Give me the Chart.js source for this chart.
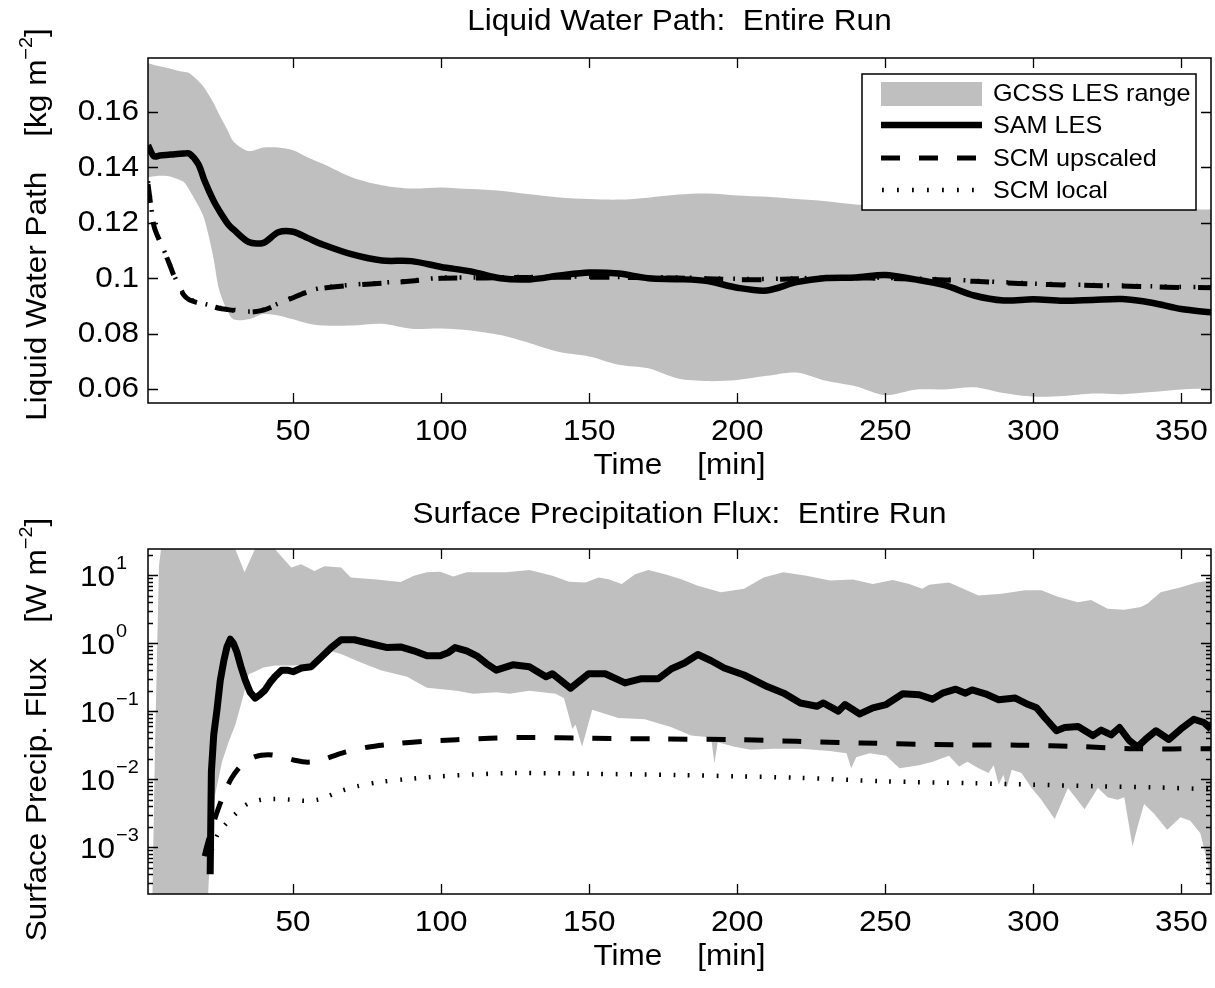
<!DOCTYPE html>
<html>
<head>
<meta charset="utf-8">
<title>Liquid Water Path / Surface Precipitation Flux</title>
<script src="https://cdn.jsdelivr.net/npm/chart.js@4.4.1/dist/chart.umd.min.js"></script>
<style>
  html, body { margin: 0; padding: 0; background: #fff; }
  #wrap { position: relative; width: 1215px; height: 988px; overflow: hidden; }
  canvas { position: absolute; left: 0; }
  #lwp { top: 0; }
  #flux { top: 490px; }
</style>
</head>
<body>
<div id="wrap">
  <canvas id="lwp" width="1215" height="490"></canvas>
  <canvas id="flux" width="1215" height="498"></canvas>
</div>
<script>
// ================= data: liquid water path (top panel) =================
var timeTop = [1, 3, 5, 8, 10, 13, 15, 18, 20, 23, 25, 28, 30, 35, 40, 45, 50, 55, 60, 70, 80, 90, 100, 110, 120, 130, 140, 150, 160, 170, 180, 190, 200, 210, 220, 230, 240, 250, 260, 270, 280, 290, 300, 310, 320, 330, 340, 350, 360];
var samLwp = [0.148, 0.1440, 0.1443, 0.1446, 0.1448, 0.1450, 0.1450, 0.1412, 0.1355, 0.1283, 0.1245, 0.1196, 0.1175, 0.1131, 0.1128, 0.1166, 0.1168, 0.1145, 0.1122, 0.1086, 0.1064, 0.1062, 0.1041, 0.1025, 0.1000, 0.0996, 0.1010, 0.1021, 0.1017, 0.1000, 0.0997, 0.0990, 0.0966, 0.0956, 0.0986, 0.1001, 0.1003, 0.1012, 0.0996, 0.0975, 0.0938, 0.0920, 0.0924, 0.0919, 0.0922, 0.0925, 0.0912, 0.0889, 0.0877];
var upscaledLwp = [0.134, 0.119, 0.1133, 0.1058, 0.1003, 0.0941, 0.0922, 0.0911, 0.0906, 0.0898, 0.0892, 0.0887, 0.0884, 0.0878, 0.0885, 0.0907, 0.0930, 0.0951, 0.0964, 0.0975, 0.0982, 0.0990, 0.1000, 0.1001, 0.1002, 0.1003, 0.1004, 0.1004, 0.1003, 0.1002, 0.1001, 0.0998, 0.0995, 0.0995, 0.0998, 0.1000, 0.1001, 0.1000, 0.0997, 0.0994, 0.0989, 0.0984, 0.0979, 0.0976, 0.0974, 0.0972, 0.0969, 0.0967, 0.0966];
var localLwp = [0.135, 0.1195, 0.1136, 0.1060, 0.1006, 0.0944, 0.0925, 0.0913, 0.0908, 0.0900, 0.0894, 0.0889, 0.0886, 0.0880, 0.0887, 0.0909, 0.0932, 0.0953, 0.0966, 0.0977, 0.0984, 0.0992, 0.1002, 0.1003, 0.1004, 0.1005, 0.1006, 0.1006, 0.1005, 0.1004, 0.1003, 0.1000, 0.0998, 0.0998, 0.1000, 0.1002, 0.1003, 0.1002, 0.0999, 0.0996, 0.0991, 0.0986, 0.0981, 0.0978, 0.0976, 0.0974, 0.0971, 0.0969, 0.0968];
var gcssMaxLwp = [0.1776, 0.1770, 0.1765, 0.1758, 0.1752, 0.1745, 0.1740, 0.1712, 0.1688, 0.1635, 0.1592, 0.1532, 0.1492, 0.1459, 0.1472, 0.1472, 0.1462, 0.1436, 0.1413, 0.1364, 0.1336, 0.1324, 0.1328, 0.1322, 0.1316, 0.1303, 0.1292, 0.1286, 0.1284, 0.1291, 0.1302, 0.1306, 0.1299, 0.1294, 0.1286, 0.1278, 0.1266, 0.1260, 0.1258, 0.1256, 0.1254, 0.1252, 0.1251, 0.1250, 0.1249, 0.1249, 0.1248, 0.1248, 0.1248];
var gcssMinLwp = [0.1365, 0.1368, 0.1370, 0.1368, 0.1362, 0.1348, 0.1318, 0.1262, 0.1215, 0.1080, 0.0960, 0.0878, 0.0851, 0.0852, 0.0871, 0.0866, 0.0852, 0.0837, 0.0830, 0.0830, 0.0836, 0.0818, 0.0819, 0.0812, 0.0795, 0.0766, 0.0734, 0.0718, 0.0688, 0.0675, 0.0638, 0.0629, 0.0633, 0.0648, 0.0660, 0.0630, 0.0610, 0.0578, 0.0598, 0.0599, 0.0607, 0.0586, 0.0573, 0.0575, 0.0584, 0.0582, 0.0590, 0.0599, 0.0602];

// ================= data: surface precipitation flux (bottom panel) =================
var timeSam = [22.0, 22.4, 23.2, 24.3, 25.4, 26.6, 27.7, 28.8, 29.8, 31.0, 32.4, 33.8, 35.5, 37.2, 38.8, 40.5, 42.2, 43.9, 46.1, 48.0, 50.0, 52.8, 56.1, 59.5, 62.9, 66.2, 70.7, 76.3, 81.8, 86.3, 90.8, 95.2, 99.7, 102.5, 104.7, 108.6, 112.0, 115.3, 118.6, 124.2, 129.8, 135.4, 137.6, 143.7, 149.8, 155.4, 162.1, 167.7, 173.3, 177.8, 182.2, 186.7, 191.2, 195.6, 202.3, 210.1, 215.7, 221.3, 226.9, 229.1, 234.1, 236.4, 241.4, 245.8, 250.3, 255.9, 261.5, 265.9, 269.3, 273.8, 277.1, 279.3, 283.8, 288.3, 293.9, 298.3, 301.1, 303.9, 307.8, 310.6, 315.1, 320.1, 322.9, 326.3, 329.1, 332.4, 335.2, 338.0, 341.4, 345.8, 349.8, 354.2, 357.6, 360];
var samFlux = [0.0004, 0.0126, 0.045, 0.105, 0.28, 0.55, 0.89, 1.14, 1.0, 0.74, 0.45, 0.29, 0.19, 0.155, 0.174, 0.204, 0.263, 0.324, 0.40, 0.40, 0.38, 0.43, 0.45, 0.62, 0.86, 1.12, 1.12, 0.98, 0.86, 0.88, 0.77, 0.65, 0.65, 0.73, 0.86, 0.77, 0.65, 0.50, 0.40, 0.48, 0.45, 0.32, 0.355, 0.217, 0.355, 0.355, 0.26, 0.30, 0.30, 0.42, 0.51, 0.68, 0.55, 0.43, 0.34, 0.23, 0.184, 0.132, 0.118, 0.132, 0.100, 0.125, 0.091, 0.112, 0.125, 0.18, 0.174, 0.15, 0.184, 0.21, 0.184, 0.205, 0.18, 0.147, 0.156, 0.125, 0.112, 0.080, 0.0515, 0.0575, 0.0596, 0.0437, 0.0527, 0.0447, 0.0575, 0.037, 0.0296, 0.039, 0.0515, 0.0383, 0.0545, 0.076, 0.068, 0.0545];
var timeUpscaled = [20.0, 21.0, 23.8, 26.6, 29.3, 32.7, 37.2, 41.6, 46.1, 50.5, 55.0, 59.5, 66.2, 75.1, 84.1, 94.1, 105.3, 116.4, 130, 150, 175, 200, 220, 242, 273, 295, 317, 334, 360];
var upscaledFlux = [0.00074, 0.0011, 0.0028, 0.006, 0.0105, 0.0162, 0.0214, 0.0229, 0.0214, 0.019, 0.0178, 0.019, 0.024, 0.0295, 0.033, 0.036, 0.038, 0.040, 0.041, 0.040, 0.039, 0.038, 0.036, 0.034, 0.032, 0.0316, 0.030, 0.028, 0.028];
var timeLocal = [22.5, 24.4, 27.3, 30.6, 34.5, 39.4, 43.9, 48.9, 53.9, 58.4, 61.7, 66.2, 71.8, 79.6, 88.5, 99.7, 110.8, 125, 150, 180, 200, 220, 250, 280, 300, 320, 340, 360];
var localFlux = [0.0009, 0.0015, 0.0022, 0.0031, 0.0043, 0.005, 0.0051, 0.005, 0.0048, 0.005, 0.0056, 0.0067, 0.0079, 0.0091, 0.010, 0.011, 0.0117, 0.0123, 0.012, 0.0115, 0.011, 0.0105, 0.0093, 0.0087, 0.0083, 0.0079, 0.0076, 0.0071];
var timeGcssMax = [1, 2.5, 3.4, 4.7, 6, 29, 30.5, 33.6, 37.1, 38.5, 42.5, 43.9, 49.4, 52.7, 57.2, 60.6, 66.2, 69.5, 77.3, 86.3, 90.8, 95.2, 99.7, 104.1, 108.6, 114.2, 122, 129.8, 137.6, 143.2, 148.7, 153.2, 156.5, 161, 165.5, 170, 175.6, 181.1, 186.7, 194.5, 202.3, 208.9, 215.6, 223.4, 231.3, 239.1, 245.8, 252.5, 258.1, 262.5, 264.8, 271.5, 281.5, 289.3, 297.2, 302.7, 308.3, 315, 319.5, 325.1, 330.7, 336.3, 338.5, 343, 349.6, 355.2, 360];
var gcssMaxFlux = [1e-5, 2e-4, 0.035, 13.5, 40, 40, 24, 11, 24, 40, 40, 24, 12.9, 14.5, 11.5, 13.5, 12.9, 9.25, 8.7, 7.9, 9.8, 11.0, 11.2, 9.5, 11.0, 11.0, 11.0, 11.9, 9.8, 8.0, 7.8, 9.25, 8.7, 7.4, 10.3, 11.9, 10.3, 8.7, 7.0, 5.6, 6.3, 9.25, 11.0, 9.8, 8.3, 8.6, 7.4, 8.5, 7.4, 6.3, 7.2, 7.8, 5.0, 5.3, 6.0, 6.0, 4.8, 4.0, 4.3, 3.2, 3.1, 3.4, 3.8, 5.6, 6.6, 7.8, 8.3];
var timeGcssMin = [1, 20.8, 21.2, 22.5, 23.8, 26, 28.2, 30.5, 32.7, 35, 37, 40, 44, 50, 56, 60, 63, 66.2, 72.9, 79.6, 88.5, 95.2, 105.3, 110.8, 118.6, 123.1, 129.8, 138.7, 141.5, 144.3, 145.4, 147.6, 151, 159.9, 168.8, 177.8, 184.4, 188.9, 191.2, 192.3, 193.4, 199, 204.6, 212.4, 221.3, 231.3, 236.9, 238.5, 240.2, 244.7, 250.3, 254.8, 261.5, 266, 271.5, 274.9, 277.7, 281.5, 284.9, 286.6, 288.3, 289.9, 291, 292.7, 296, 299.4, 302.7, 307.2, 311.7, 317.3, 321.8, 325.1, 328.5, 330.7, 333.5, 335.2, 337.4, 340.8, 345.2, 349.7, 353, 356.4, 359.1, 360];
var gcssMinFlux = [1e-5, 1e-5, 1.6e-4, 0.0025, 0.0063, 0.018, 0.035, 0.063, 0.14, 0.35, 0.38, 0.44, 0.47, 0.47, 0.49, 0.60, 0.76, 0.69, 0.52, 0.40, 0.32, 0.22, 0.20, 0.18, 0.19, 0.18, 0.20, 0.18, 0.155, 0.055, 0.063, 0.030, 0.105, 0.079, 0.076, 0.058, 0.044, 0.042, 0.040, 0.017, 0.035, 0.030, 0.027, 0.028, 0.028, 0.026, 0.024, 0.0145, 0.021, 0.024, 0.022, 0.0145, 0.016, 0.018, 0.022, 0.0153, 0.018, 0.0145, 0.0123, 0.016, 0.0083, 0.0116, 0.0074, 0.0138, 0.0123, 0.0074, 0.0050, 0.0026, 0.0074, 0.0036, 0.0074, 0.0054, 0.0050, 0.0054, 0.00102, 0.0020, 0.0043, 0.0031, 0.0018, 0.00275, 0.00245, 0.0016, 0.00052, 0.00016];

// ================= ticks =================
var timeTicks = [50, 100, 150, 200, 250, 300, 350];
var lwpTicks = [0.06, 0.08, 0.1, 0.12, 0.14, 0.16];
var lwpTickLabels = ['0.06', '0.08', '0.1', '0.12', '0.14', '0.16'];
var fluxTicks = [1e-3, 1e-2, 1e-1, 1, 10];
var fluxTickExponents = ['\u22123', '\u22122', '\u22121', '0', '1'];
var legendLabels = ['GCSS LES range', 'SAM LES', 'SCM upscaled', 'SCM local'];

// ================= styling =================
var FONT = '"Liberation Sans", Arial, Helvetica, sans-serif';
var STRETCH = 1.05;
var FS = 30;        // main text size
var FS_SUP = 19;    // superscripts
var BAND = '#bfbfbf';
var DOT = [1.8, 12.6];

function pts(xs, ys) {
    return xs.map(function (x, i) { return { x: x, y: ys[i] }; });
}

// draw a run of text pieces (text, size, dy), optionally rotated
function drawRich(ctx, parts, x, y, align, rot) {
    ctx.save();
    ctx.translate(x, y);
    if (rot) ctx.rotate(rot);
    ctx.scale(STRETCH, 1);
    ctx.fillStyle = '#000';
    ctx.textBaseline = 'middle';
    ctx.textAlign = 'left';
    var total = 0, widths = [];
    parts.forEach(function (p) {
        ctx.font = p[1] + 'px ' + FONT;
        var w = ctx.measureText(p[0]).width;
        widths.push(w);
        total += w;
    });
    var cx = align === 'right' ? -total : (align === 'left' ? 0 : -total / 2);
    parts.forEach(function (p, i) {
        ctx.font = p[1] + 'px ' + FONT;
        ctx.fillText(p[0], cx, p[2] || 0);
        cx += widths[i];
    });
    ctx.restore();
}

function drawLegend(ctx, a) {
    var L = a.right - 349, T = a.top + 16, W = 334, H = 136;
    var s0 = L + 19, s1 = L + 120;
    ctx.save();
    ctx.fillStyle = '#fff';
    ctx.fillRect(L, T, W, H);
    ctx.strokeStyle = '#000';
    ctx.lineWidth = 1.5;
    ctx.strokeRect(L, T, W, H);

    ctx.fillStyle = BAND;
    ctx.fillRect(s0, T + 8, s1 - s0, 24);

    ctx.strokeStyle = '#000';
    ctx.lineCap = 'butt';
    ctx.lineWidth = 6.5;
    ctx.setLineDash([]);
    ctx.beginPath(); ctx.moveTo(s0, T + 51); ctx.lineTo(s1, T + 51); ctx.stroke();

    ctx.lineWidth = 5;
    ctx.setLineDash([19, 19]);
    ctx.beginPath(); ctx.moveTo(s0, T + 84); ctx.lineTo(s1, T + 84); ctx.stroke();

    ctx.lineWidth = 4.5;
    ctx.setLineDash([1.8, 13.2]);
    ctx.beginPath(); ctx.moveTo(s0 + 1, T + 116); ctx.lineTo(s1, T + 116); ctx.stroke();
    ctx.restore();

    var ys = [T + 20, T + 52, T + 85, T + 117];
    legendLabels.forEach(function (lab, i) {
        drawRich(ctx, [[lab, 24, 0]], L + 131, ys[i], 'left');
    });
}

// MATLAB-like frame: box, inward ticks on all sides, labels and titles
function makeAxesPlugin(spec) {
    return {
        id: 'matlabAxes',
        afterDraw: function (chart) {
            var ctx = chart.ctx, a = chart.chartArea;
            var xs = chart.scales.x, ys = chart.scales.y;
            ctx.save();
            ctx.strokeStyle = '#000';
            ctx.setLineDash([]);
            ctx.lineWidth = 1.3;
            ctx.beginPath();
            timeTicks.forEach(function (v) {
                var px = Math.round(xs.getPixelForValue(v)) + 0.5;
                ctx.moveTo(px, a.bottom); ctx.lineTo(px, a.bottom - 10);
                ctx.moveTo(px, a.top); ctx.lineTo(px, a.top + 10);
            });
            spec.yTicks.forEach(function (v) {
                var py = Math.round(ys.getPixelForValue(v)) + 0.5;
                ctx.moveTo(a.left, py); ctx.lineTo(a.left + 10, py);
                ctx.moveTo(a.right, py); ctx.lineTo(a.right - 10, py);
            });
            if (spec.minor) {
                for (var k = -4; k <= 1; k++) {
                    for (var m = 2; m <= 9; m++) {
                        var v = m * Math.pow(10, k);
                        if (v < ys.min || v > ys.max) continue;
                        var py = Math.round(ys.getPixelForValue(v)) + 0.5;
                        ctx.moveTo(a.left, py); ctx.lineTo(a.left + 5, py);
                        ctx.moveTo(a.right, py); ctx.lineTo(a.right - 5, py);
                    }
                }
            }
            ctx.stroke();
            ctx.lineWidth = 1.5;
            ctx.strokeRect(a.left, a.top, a.right - a.left, a.bottom - a.top);
            ctx.restore();

            if (spec.legend) drawLegend(ctx, a);

            // tick labels
            timeTicks.forEach(function (v) {
                drawRich(ctx, [[String(v), FS, 0]], xs.getPixelForValue(v), a.bottom + 29, 'center');
            });
            spec.yTicks.forEach(function (v, i) {
                var py = ys.getPixelForValue(v);
                if (spec.logLabels) {
                    drawRich(ctx, [['10', FS, 0]], a.left - 33, py + 3, 'right');
                    drawRich(ctx, [[spec.yLabels[i], FS_SUP, 0]], a.left - 32, py - 11, 'left');
                } else {
                    drawRich(ctx, [[spec.yLabels[i], FS, 0]], a.left - 9, py, 'right');
                }
            });

            // titles
            var cx = (a.left + a.right) / 2;
            drawRich(ctx, [[spec.title, FS, 0]], cx, spec.titleY, 'center');
            drawRich(ctx, [['Time    [min]', FS, 0]], cx, a.bottom + 63, 'center');
            drawRich(ctx, spec.yTitle, 38, (a.top + a.bottom) / 2 + spec.yTitleShift, 'center', -Math.PI / 2);
        }
    };
}

function baseOptions(yScale, pad) {
    return {
        responsive: false,
        animation: false,
        devicePixelRatio: 1,
        events: [],
        layout: { padding: pad },
        plugins: { legend: { display: false }, tooltip: { enabled: false } },
        elements: { point: { radius: 0 } },
        scales: {
            x: { type: 'linear', min: 1, max: 360, ticks: { display: false }, grid: { display: false }, border: { display: false } },
            y: Object.assign({ ticks: { display: false }, grid: { display: false }, border: { display: false } }, yScale)
        }
    };
}

// ================= top panel =================
new Chart(document.getElementById('lwp'), {
    type: 'line',
    data: {
        datasets: [
            { label: 'SAM LES', data: pts(timeTop, samLwp), borderColor: '#000', borderWidth: 6.5, tension: 0.3, fill: false, borderJoinStyle: 'round' },
            { label: 'SCM upscaled', data: pts(timeTop, upscaledLwp), borderColor: '#000', borderWidth: 5, borderDash: [19, 19], tension: 0.3, fill: false },
            { label: 'SCM local', data: pts(timeTop, localLwp), borderColor: '#000', borderWidth: 4.5, borderDash: DOT, tension: 0.3, fill: false },
            { label: 'GCSS max', data: pts(timeTop, gcssMaxLwp), borderWidth: 0, borderColor: BAND, backgroundColor: BAND, tension: 0.3, fill: '+1' },
            { label: 'GCSS min', data: pts(timeTop, gcssMinLwp), borderWidth: 0, borderColor: BAND, tension: 0.3, fill: false }
        ]
    },
    options: baseOptions({ type: 'linear', min: 0.055, max: 0.1795 }, { left: 140, top: 58, right: 4, bottom: 79 }),
    plugins: [makeAxesPlugin({
        title: 'Liquid Water Path:  Entire Run',
        titleY: 22,
        yTicks: lwpTicks,
        yLabels: lwpTickLabels,
        logLabels: false,
        minor: false,
        legend: true,
        yTitle: [['Liquid Water Path    [kg m', FS, 0], ['\u22122', FS_SUP, -11], [']', FS, 0]],
        yTitleShift: -6
    })]
});

// ================= bottom panel =================
new Chart(document.getElementById('flux'), {
    type: 'line',
    data: {
        datasets: [
            { label: 'SAM LES', data: pts(timeSam, samFlux), borderColor: '#000', borderWidth: 7, tension: 0, fill: false, borderJoinStyle: 'round' },
            { label: 'SCM upscaled', data: pts(timeUpscaled, upscaledFlux), borderColor: '#000', borderWidth: 5, borderDash: [19, 19], tension: 0.3, fill: false },
            { label: 'SCM local', data: pts(timeLocal, localFlux), borderColor: '#000', borderWidth: 4.5, borderDash: DOT, tension: 0.3, fill: false },
            { label: 'GCSS max', data: pts(timeGcssMax, gcssMaxFlux), borderWidth: 0, borderColor: BAND, backgroundColor: BAND, tension: 0, fill: '+1' },
            { label: 'GCSS min', data: pts(timeGcssMin, gcssMinFlux), borderWidth: 0, borderColor: BAND, tension: 0, fill: false }
        ]
    },
    options: baseOptions({ type: 'logarithmic', min: 2.05e-4, max: 24.2 }, { left: 140, top: 59, right: 4, bottom: 86 }),
    plugins: [makeAxesPlugin({
        title: 'Surface Precipitation Flux:  Entire Run',
        titleY: 25,
        yTicks: fluxTicks,
        yLabels: fluxTickExponents,
        logLabels: true,
        minor: true,
        legend: false,
        yTitle: [['Surface Precip. Flux    [W m', FS, 0], ['\u22122', FS_SUP, -11], [']', FS, 0]],
        yTitleShift: 8
    })]
});
</script>
</body>
</html>
